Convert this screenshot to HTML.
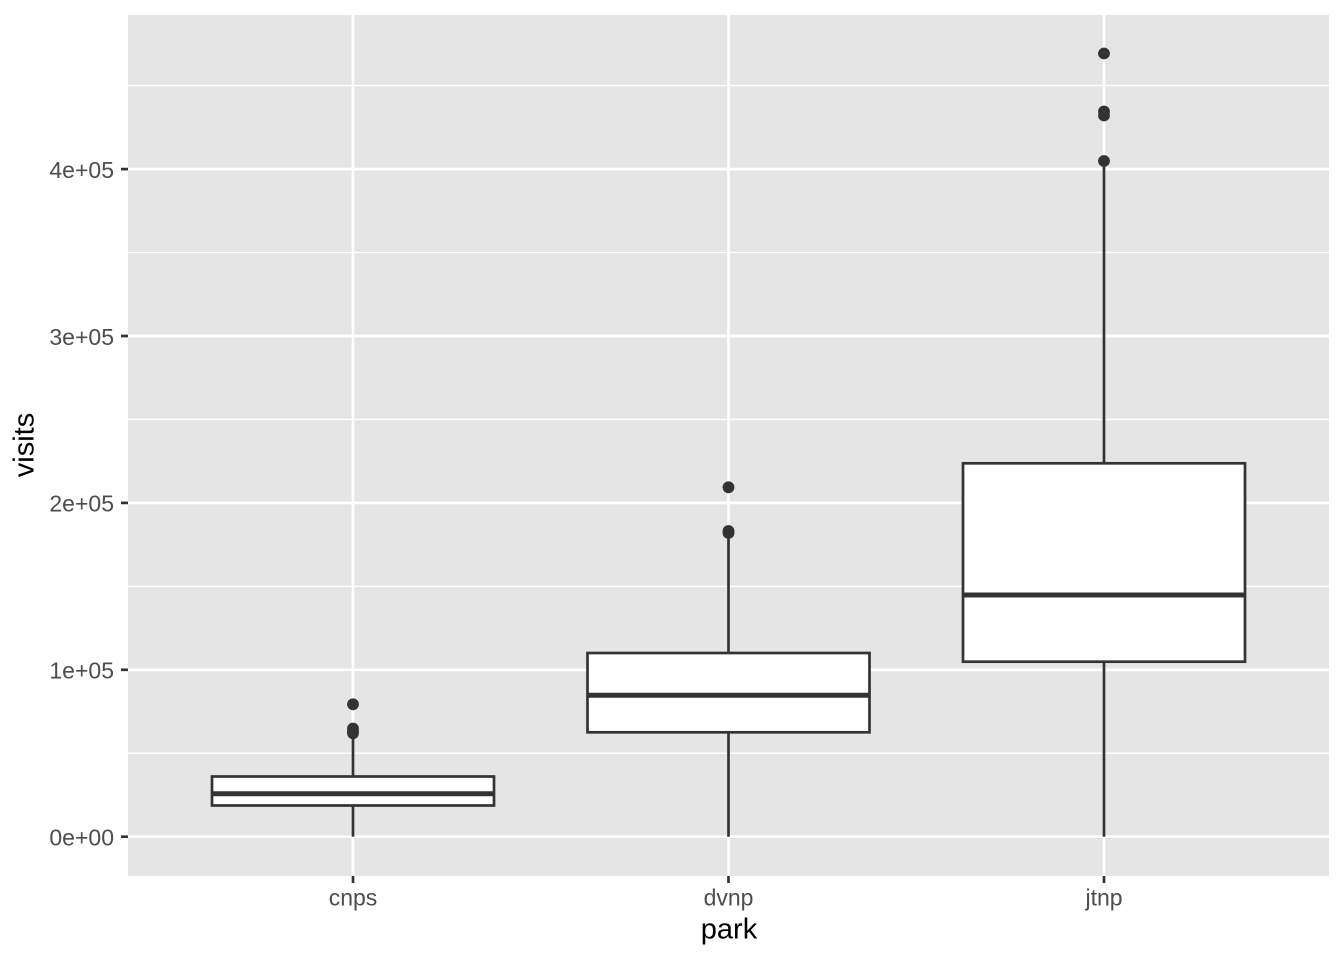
<!DOCTYPE html>
<html>
<head>
<meta charset="utf-8">
<style>
  html, body { margin:0; padding:0; background:#ffffff; }
  svg { display:block; }
  text { font-family: "Liberation Sans", Arial, sans-serif; }
</style>
</head>
<body>
<svg width="1344" height="960" viewBox="0 0 1344 960" xmlns="http://www.w3.org/2000/svg">
  <rect x="0" y="0" width="1344" height="960" fill="#ffffff"/>
  <!-- panel -->
  <rect x="128" y="15" width="1201" height="861" fill="#E5E5E5"/>
  <!-- minor gridlines -->
  <g stroke="#ffffff" stroke-width="1.35">
    <line x1="128" x2="1329" y1="753.2" y2="753.2"/>
    <line x1="128" x2="1329" y1="586.3" y2="586.3"/>
    <line x1="128" x2="1329" y1="419.4" y2="419.4"/>
    <line x1="128" x2="1329" y1="252.5" y2="252.5"/>
    <line x1="128" x2="1329" y1="85.6" y2="85.6"/>
  </g>
  <!-- major gridlines -->
  <g stroke="#ffffff" stroke-width="2.7">
    <line x1="128" x2="1329" y1="836.7" y2="836.7"/>
    <line x1="128" x2="1329" y1="669.8" y2="669.8"/>
    <line x1="128" x2="1329" y1="502.9" y2="502.9"/>
    <line x1="128" x2="1329" y1="336.0" y2="336.0"/>
    <line x1="128" x2="1329" y1="169.1" y2="169.1"/>
    <line x1="353" x2="353" y1="15" y2="876"/>
    <line x1="728.5" x2="728.5" y1="15" y2="876"/>
    <line x1="1104" x2="1104" y1="15" y2="876"/>
  </g>

  <!-- boxes -->
  <g stroke="#333333" stroke-width="2.7" fill="#ffffff">
    <!-- cnps -->
    <line x1="353" x2="353" y1="776.5" y2="736"/>
    <line x1="353" x2="353" y1="805.5" y2="836.7"/>
    <rect x="212" y="776.5" width="282" height="29"/>
    <line x1="212" x2="494" y1="793.7" y2="793.7" stroke-width="5"/>
    <!-- dvnp -->
    <line x1="728.5" x2="728.5" y1="653" y2="537"/>
    <line x1="728.5" x2="728.5" y1="732.3" y2="836.7"/>
    <rect x="587.5" y="653" width="282" height="79.3"/>
    <line x1="587.5" x2="869.5" y1="695.3" y2="695.3" stroke-width="5"/>
    <!-- jtnp -->
    <line x1="1104" x2="1104" y1="463.3" y2="165"/>
    <line x1="1104" x2="1104" y1="661.7" y2="836.7"/>
    <rect x="963" y="463.3" width="282" height="198.4"/>
    <line x1="963" x2="1245" y1="595" y2="595" stroke-width="5"/>
  </g>

  <!-- outliers -->
  <g fill="#333333">
    <circle cx="353" cy="704.3" r="5.9"/>
    <circle cx="353" cy="728.5" r="5.9"/>
    <circle cx="353" cy="731.5" r="5.9"/>
    <circle cx="353" cy="733.3" r="5.9"/>
    <circle cx="728.5" cy="487.3" r="5.9"/>
    <circle cx="728.5" cy="531" r="5.9"/>
    <circle cx="728.5" cy="533" r="5.9"/>
    <circle cx="1104" cy="53.5" r="5.9"/>
    <circle cx="1104" cy="111.5" r="5.9"/>
    <circle cx="1104" cy="115.5" r="5.9"/>
    <circle cx="1104" cy="161" r="5.9"/>
  </g>

  <!-- ticks -->
  <g stroke="#333333" stroke-width="2.7">
    <line x1="121" x2="128" y1="836.7" y2="836.7"/>
    <line x1="121" x2="128" y1="669.8" y2="669.8"/>
    <line x1="121" x2="128" y1="502.9" y2="502.9"/>
    <line x1="121" x2="128" y1="336.0" y2="336.0"/>
    <line x1="121" x2="128" y1="169.1" y2="169.1"/>
    <line x1="353" x2="353" y1="876" y2="883"/>
    <line x1="728.5" x2="728.5" y1="876" y2="883"/>
    <line x1="1104" x2="1104" y1="876" y2="883"/>
  </g>

  <!-- y tick labels -->
  <g fill="#4D4D4D" font-size="23" text-anchor="end">
    <text x="114" y="845.5">0e+00</text>
    <text x="114" y="678.6">1e+05</text>
    <text x="114" y="511.7">2e+05</text>
    <text x="114" y="344.8">3e+05</text>
    <text x="114" y="177.9">4e+05</text>
  </g>
  <!-- x tick labels -->
  <g fill="#4D4D4D" font-size="23" text-anchor="middle">
    <text x="353" y="905.5">cnps</text>
    <text x="728.5" y="905.5">dvnp</text>
    <text x="1104" y="905.5">jtnp</text>
  </g>

  <!-- axis titles -->
  <text x="729" y="938.5" font-size="29" text-anchor="middle" fill="#000000">park</text>
  <text x="0" y="0" font-size="29" text-anchor="middle" fill="#000000" transform="translate(33.5,445) rotate(-90)">visits</text>
</svg>
</body>
</html>
